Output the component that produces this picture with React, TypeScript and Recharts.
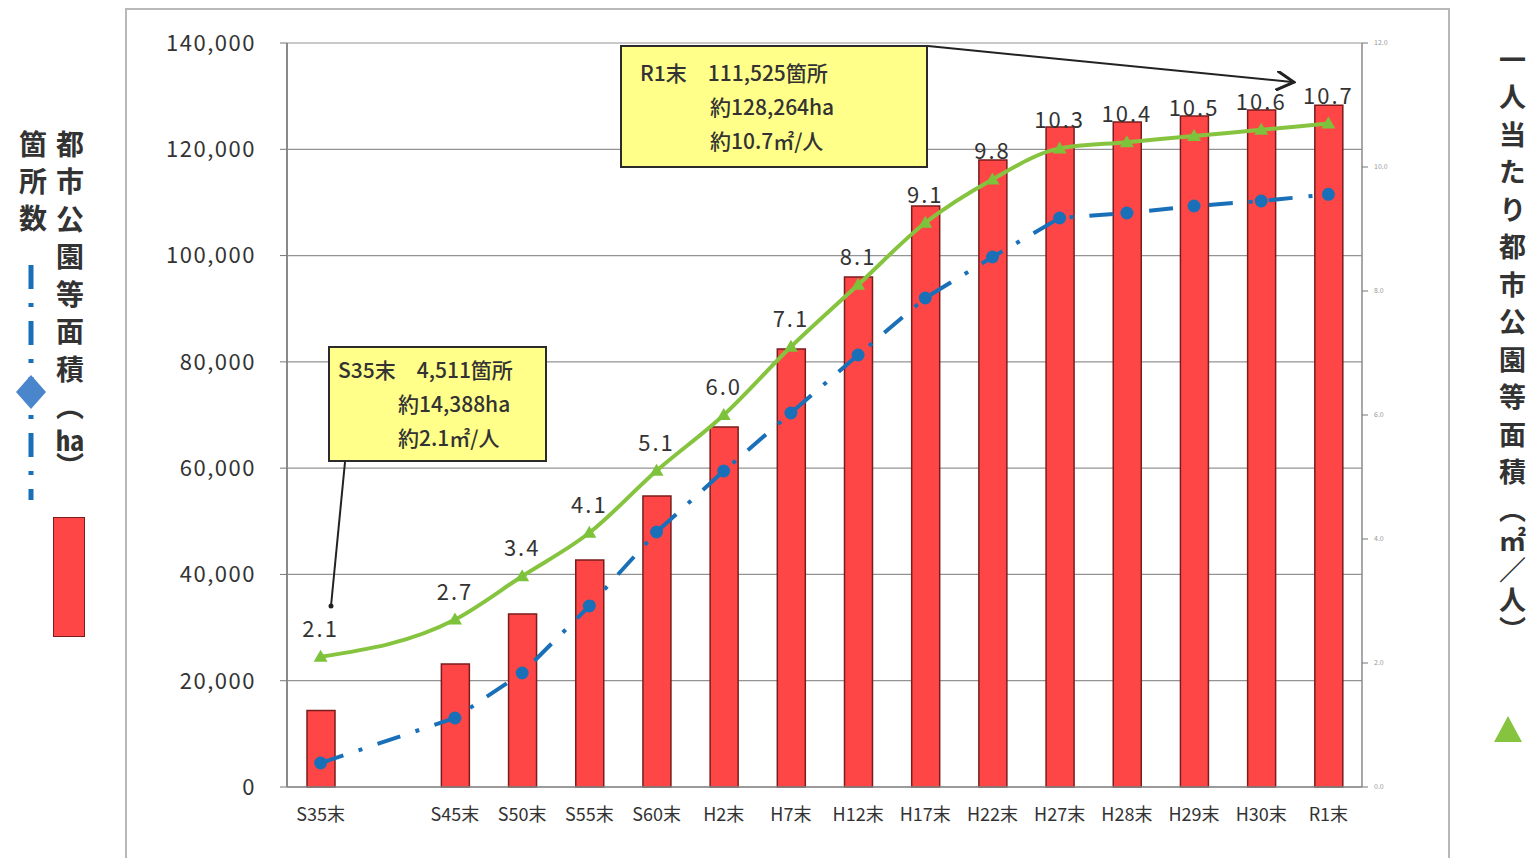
import React from "react";
import { ComposedChart, Bar, Line, XAxis, YAxis, CartesianGrid, LabelList } from "recharts";

// 年度（S40末は空欄）
const categories = ["S35末", "", "S45末", "S50末", "S55末", "S60末", "H2末", "H7末", "H12末", "H17末", "H22末", "H27末", "H28末", "H29末", "H30末", "R1末"];
// 都市公園等面積 (ha)
const parkArea = [14388, null, 23150, 32550, 42700, 54760, 67740, 82420, 95970, 109330, 117980, 124190, 125130, 126260, 127390, 128264];
// 箇所数
const parkCount = [4511, null, 12980, 21450, 34060, 47980, 59460, 70380, 81290, 92020, 99730, 107070, 108010, 109330, 110270, 111525];
// 一人当たり都市公園等面積 (㎡/人)
const perCapita = [2.1, null, 2.7, 3.4, 4.1, 5.1, 6.0, 7.1, 8.1, 9.1, 9.8, 10.3, 10.4, 10.5, 10.6, 10.7];

const leftTicks = [0, 20000, 40000, 60000, 80000, 100000, 120000, 140000];
const rightTicks = [0, 2, 4, 6, 8, 10, 12];

const data = categories.map((c, i) => ({
  name: c,
  area: parkArea[i],
  count: parkCount[i],
  perCapita: perCapita[i],
}));

const JP = '"Noto Sans CJK JP", "Noto Sans", sans-serif';

const BlueDot = (props: any) => {
  const { cx, cy, index } = props;
  if (cy == null || isNaN(cy)) return <g key={`b${index}`} />;
  return <circle key={`b${index}`} cx={cx} cy={cy} r={6.5} fill="#1a70b8" />;
};

const Triangle = (props: any) => {
  const { cx, cy, index } = props;
  if (cy == null || isNaN(cy)) return <g key={`t${index}`} />;
  return (
    <polygon
      key={`t${index}`}
      points={`${cx},${cy - 7} ${cx - 7},${cy + 5} ${cx + 7},${cy + 5}`}
      fill="#7cc23a"
    />
  );
};

const fmt = (v: number) => v.toLocaleString("en-US");

export default function App() {
  return (
    <div
      style={{
        position: "absolute",
        left: 0,
        top: 0,
        width: 1533,
        height: 858,
        background: "#ffffff",
        overflow: "hidden",
        fontFamily: JP,
      }}
    >
      {/* frame */}
      <div
        style={{
          position: "absolute",
          left: 125,
          top: 8,
          width: 1325,
          height: 870,
          border: "2px solid #b8b8b8",
          boxSizing: "border-box",
        }}
      />
      <div style={{ position: "absolute", left: 0, top: 0 }}>
        <ComposedChart width={1533} height={858} data={data} margin={{ top: 43, right: 111, bottom: 31, left: 0 }}>
          <CartesianGrid vertical={false} stroke="#939393" strokeWidth={1.2} />
          <XAxis
            dataKey="name"
            height={40}
            tickLine={false}
            axisLine={{ stroke: "#8a8a8a", strokeWidth: 1.5 }}
            tick={{ fill: "#333", fontSize: 18, fontFamily: JP }}
            tickMargin={15}
            interval={0}
          />
          <YAxis
            width={287}
            domain={[0, 140000]}
            ticks={leftTicks}
            tickFormatter={fmt}
            tickSize={7}
            tickMargin={24}
            tickLine={{ stroke: "#777" }}
            axisLine={{ stroke: "#8a8a8a", strokeWidth: 2 }}
            tick={{ fill: "#333", fontSize: 22, fontFamily: JP, letterSpacing: 1.5 }}
          />
          <YAxis
            yAxisId="right"
            orientation="right"
            width={60}
            domain={[0, 12]}
            ticks={rightTicks}
            tickFormatter={(v: number) => v.toFixed(1)}
            tickSize={6}
            tickMargin={6}
            tickLine={{ stroke: "#777" }}
            axisLine={{ stroke: "#8a8a8a", strokeWidth: 1.5 }}
            tick={{ fill: "#999", fontSize: 7, fontFamily: JP }}
          />
          <Bar dataKey="area" barSize={28} fill="#ff4646" stroke="#7a1c1c" strokeWidth={1.5} isAnimationActive={false} />
          <Line
            dataKey="count"
            stroke="#1a70b8"
            strokeWidth={4}
            strokeDasharray="24 16 4 16"
            connectNulls
            dot={BlueDot}
            activeDot={false}
            isAnimationActive={false}
          />
          <Line
            yAxisId="right"
            type="monotone"
            dataKey="perCapita"
            stroke="#86c440"
            strokeWidth={4}
            connectNulls
            dot={Triangle}
            activeDot={false}
            isAnimationActive={false}
          >
            <LabelList
              dataKey="perCapita"
              position="top"
              offset={20}
              formatter={(v: any) => (v == null ? "" : Number(v).toFixed(1))}
              style={{ fill: "#333", fontSize: 22, fontFamily: JP, letterSpacing: 2 }}
            />
          </Line>
        </ComposedChart>
      </div>

      {/* callout arrows */}
      <svg width={1533} height={858} style={{ position: "absolute", left: 0, top: 0, pointerEvents: "none" }}>
        <defs>
          <marker id="ah" markerWidth="10" markerHeight="10" refX="8" refY="5" orient="auto">
            <path d="M0,0 L9,5 L0,10" fill="none" stroke="#222" strokeWidth="1.5" />
          </marker>
        </defs>
        <line x1={928} y1={46} x2={1292} y2={82} stroke="#222" strokeWidth={2} markerEnd="url(#ah)" />
        <line x1={345} y1={462} x2={331} y2={606} stroke="#222" strokeWidth={2} />
        <circle cx={331} cy={606} r={2.5} fill="#222" />
      </svg>

      {/* callout boxes */}
      <div
        style={{
          position: "absolute",
          left: 620,
          top: 45,
          width: 308,
          height: 123,
          boxSizing: "border-box",
          border: "2.5px solid #2b2b2b",
          background: "#ffff8a",
          color: "#333",
          fontSize: 21,
          fontWeight: 500,
        }}
      >
        <div style={{ position: "absolute", left: 18, top: 10, whiteSpace: "nowrap" }}>R1末　111,525箇所</div>
        <div style={{ position: "absolute", left: 88, top: 44, whiteSpace: "nowrap" }}>約128,264ha</div>
        <div style={{ position: "absolute", left: 88, top: 78, whiteSpace: "nowrap" }}>約10.7㎡/人</div>
      </div>
      <div
        style={{
          position: "absolute",
          left: 328,
          top: 346,
          width: 219,
          height: 116,
          boxSizing: "border-box",
          border: "2.5px solid #2b2b2b",
          background: "#ffff8a",
          color: "#333",
          fontSize: 21,
          fontWeight: 500,
        }}
      >
        <div style={{ position: "absolute", left: 8, top: 6, whiteSpace: "nowrap" }}>S35末　4,511箇所</div>
        <div style={{ position: "absolute", left: 68, top: 40, whiteSpace: "nowrap" }}>約14,388ha</div>
        <div style={{ position: "absolute", left: 68, top: 74, whiteSpace: "nowrap" }}>約2.1㎡/人</div>
      </div>

      {/* left legend */}
      <div
        style={{
          position: "absolute",
          left: 56,
          top: 130,
          writingMode: "vertical-rl",
          fontSize: 28,
          fontWeight: 700,
          letterSpacing: 9.5,
          color: "#333",
          lineHeight: 1,
        }}
      >
        都市公園等面積<span style={{ letterSpacing: 4 }}>（<span style={{ textCombineUpright: "all" } as any}>ha</span>）</span>
      </div>
      <div
        style={{
          position: "absolute",
          left: 19,
          top: 130,
          writingMode: "vertical-rl",
          fontSize: 28,
          fontWeight: 700,
          letterSpacing: 9,
          color: "#333",
          lineHeight: 1,
        }}
      >
        箇所数
      </div>
      <svg width={60} height={260} style={{ position: "absolute", left: 0, top: 260 }}>
        <line x1={31} y1={5} x2={31} y2={240} stroke="#1a70b8" strokeWidth={5} strokeDasharray="24 14 4 14" />
        <polygon points="31,115 46,132 31,149 16,132" fill="#4a86cc" />
      </svg>
      <div
        style={{
          position: "absolute",
          left: 53,
          top: 517,
          width: 32,
          height: 120,
          boxSizing: "border-box",
          background: "#ff4646",
          border: "1.5px solid #7a1c1c",
        }}
      />

      {/* right legend */}
      <div
        style={{
          position: "absolute",
          left: 1499,
          top: 46,
          writingMode: "vertical-rl",
          fontSize: 27,
          fontWeight: 700,
          letterSpacing: 10.5,
          color: "#333",
          lineHeight: 1,
        }}
      >
        一人当たり都市公園等面積<span style={{ letterSpacing: 3 }}>（㎡／人）</span>
      </div>
      <svg width={40} height={40} style={{ position: "absolute", left: 1488, top: 710 }}>
        <polygon points="20,6 34,32 6,32" fill="#86c440" />
      </svg>
    </div>
  );
}
